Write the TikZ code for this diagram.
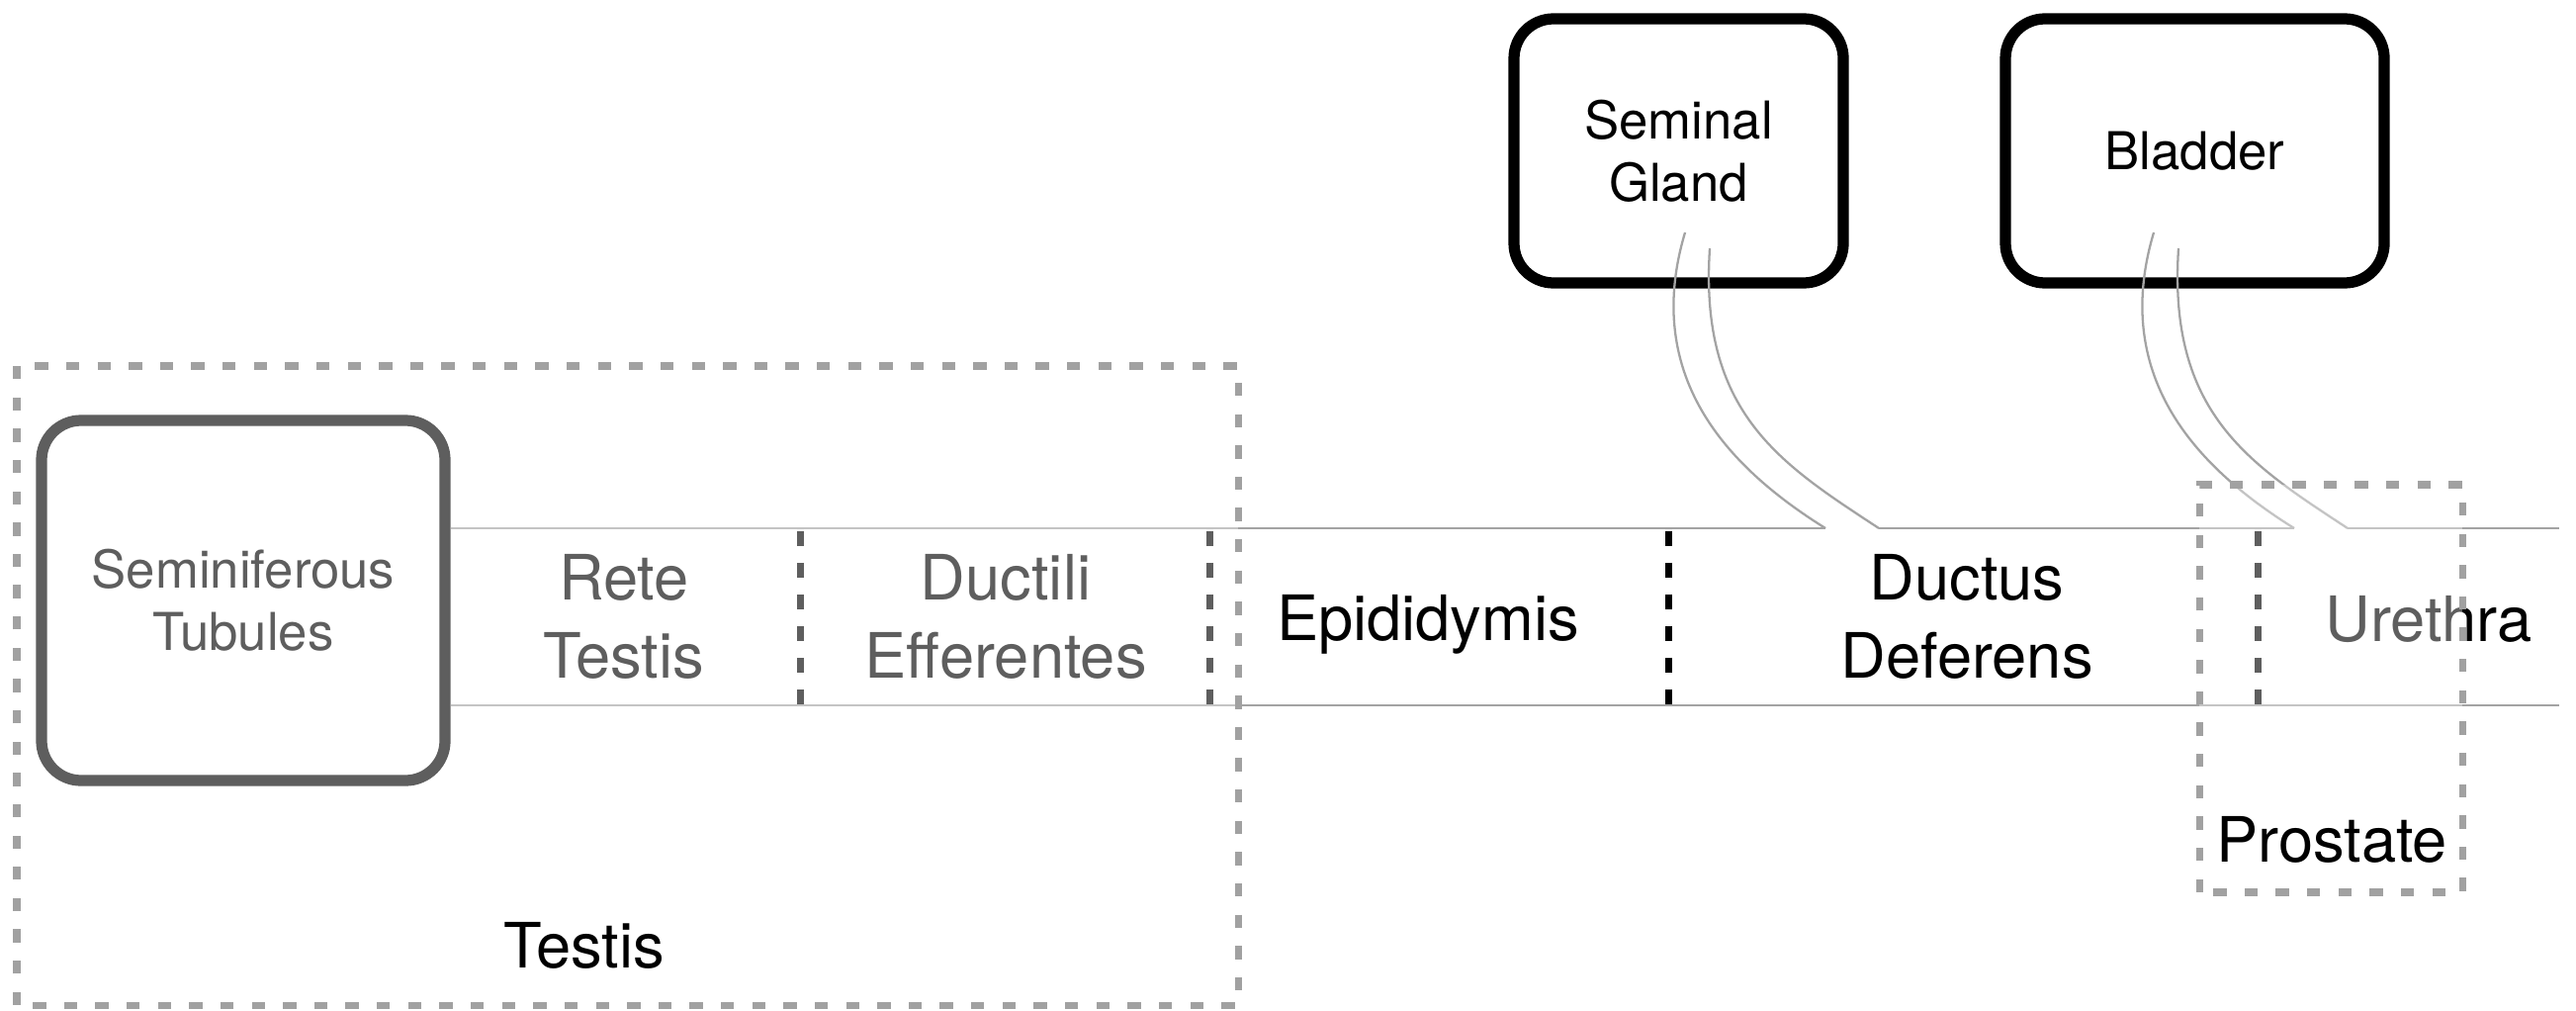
\documentclass[tikz,border=0pt]{standalone}
\usepackage{fontspec}
\setmainfont{TeX Gyre Heros}
\usepackage{tikz}

\definecolor{boxgray}{gray}{0.63}
\definecolor{tubegray}{gray}{0.64}

\begin{document}
\begin{tikzpicture}[
  organ/.style={draw, line width=3.2pt, rounded corners=0.4cm, fill=white, align=center, font=\fontsize{15}{18}\selectfont},
  tube/.style={draw=tubegray, line width=0.7pt},
  duct/.style={draw=tubegray, line width=0.65pt},
  divider/.style={line width=2pt, dash pattern=on 4.3pt off 4.8pt},
  region/.style={draw=boxgray, line width=2pt, dash pattern=on 3.8pt off 5.2pt, fill=white, fill opacity=0.37},
  part/.style={align=center, font=\fontsize{18}{22.5}\selectfont}
]
\useasboundingbox (0,0) rectangle (26.05,10.21);

\node[organ, minimum width=4.08cm, minimum height=3.64cm] (semi) at (2.46,4.14) {Seminiferous\\Tubules};
\node[organ, minimum width=3.33cm, minimum height=2.67cm] (gland) at (16.975,8.685) {Seminal\\Gland};
\node[organ, minimum width=3.83cm, minimum height=2.67cm] (bladder) at (22.195,8.685) {Bladder};

\coordinate (tubeT) at (25.88,4.87);
\coordinate (tubeB) at (25.88,3.08);

% ducts from the glands into the tube
\foreach \n/\dx in {gl/0,bl/4.74} {
\coordinate (\n-a) at (18.46+\dx,4.87);
\coordinate (\n-b) at (19.00+\dx,4.87);
\draw[duct] (17.04+\dx,7.86) .. controls (16.59+\dx,6.36) and (17.53+\dx,5.45) .. (\n-a);
\draw[duct] (17.29+\dx,7.70) .. controls (17.18+\dx,6.03) and (18.01+\dx,5.52) .. (\n-b);
}

\draw[tube] (semi.east |- tubeT) -- (gl-a);
\draw[tube] (gl-b) -- (bl-a);
\draw[tube] (bl-b) -- (tubeT);
\draw[tube] (semi.east |- tubeB) -- (tubeB);

\foreach \x in {8.09,12.23,16.87,22.83} {
\draw[divider] (\x,4.84) -- (\x,3.06);
}

\node[part] (rete) at (6.31,3.975) {Rete\\Testis};
\node[part] (efferentes) at (10.17,3.975) {Ductili\\Efferentes};
\node[part, anchor=base] (epididymis) at (14.44,3.74) {Epididymis};
\node[part] (deferens) at (19.89,3.975) {Ductus\\Deferens};
\node[part, anchor=base] (urethra) at (24.56,3.73) {Urethra};

% regions
\draw[region] (0.17,0.05) rectangle (12.52,6.51);
\draw[region] (22.24,1.19) rectangle (24.90,5.31);

\node[part, anchor=base] (testis) at (5.91,0.43) {Testis};
\node[part, anchor=base] (prostate) at (23.58,1.50) {Prostate};
\end{tikzpicture}
\end{document}
